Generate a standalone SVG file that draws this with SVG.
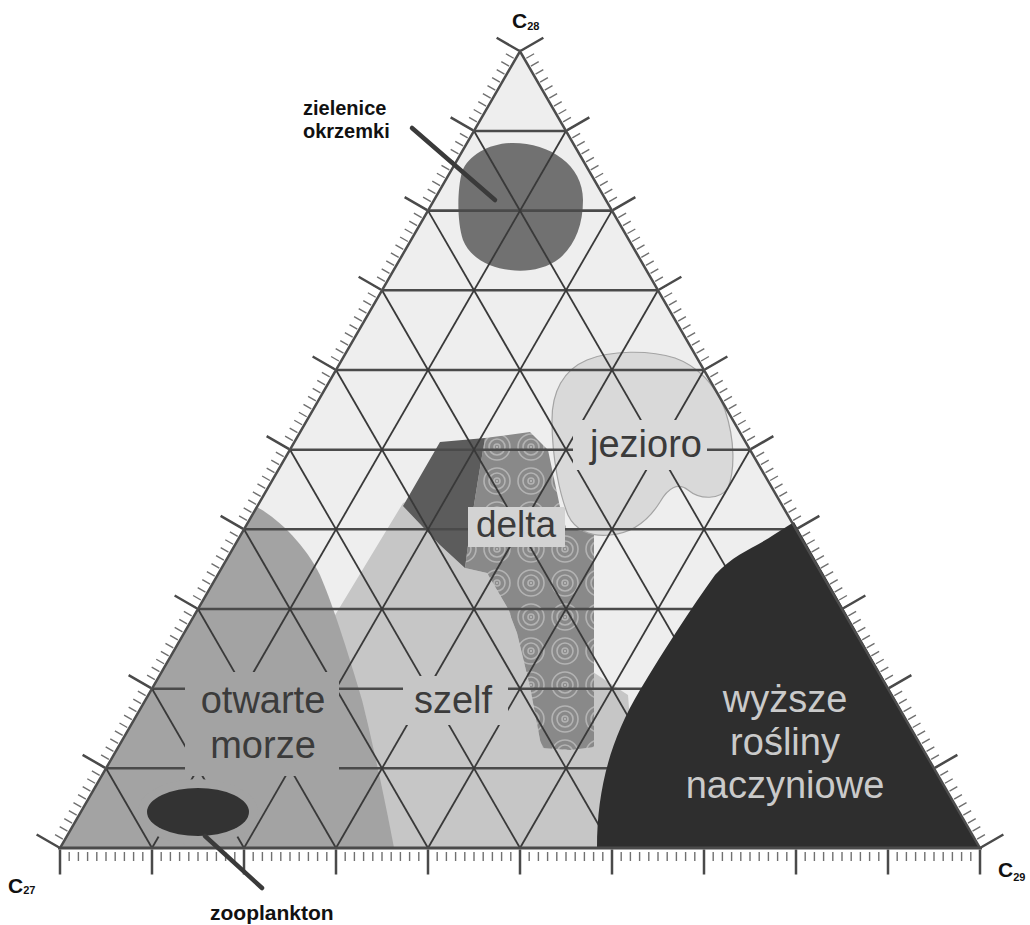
<svg xmlns="http://www.w3.org/2000/svg" width="1030" height="925" viewBox="0 0 1030 925">
<style>
.lbl{font-family:"Liberation Sans",Arial,sans-serif;font-size:38px;fill:#3b3b3b;text-anchor:middle}
.lbl-light{font-family:"Liberation Sans",Arial,sans-serif;font-size:38px;fill:#cacaca;text-anchor:middle}
.small{font-family:"Liberation Sans",Arial,sans-serif;font-size:20px;font-weight:bold;fill:#111}
.corner{font-family:"Liberation Sans",Arial,sans-serif;font-size:21px;font-weight:bold;fill:#111}
.diag{stroke:#393939;stroke-width:1.8;fill:none}
.hor{stroke:#4a4a4a;stroke-width:2.6;fill:none}
.minor{fill:none;stroke:#707070;stroke-width:9;stroke-dasharray:1.4 7.8;stroke-dashoffset:0.7}
.major{fill:none;stroke:#4a4a4a;stroke-width:26;stroke-dasharray:2.5 89.5;stroke-dashoffset:47.25}
.leader{stroke:#3a3a3a;stroke-width:4.5;stroke-linecap:round;fill:none}
</style>
<defs>
<pattern id="rings" width="34" height="34" patternUnits="userSpaceOnUse" x="480" y="430">
<rect width="34" height="34" fill="#898989"/>
<g fill="none" stroke="#b3b3b3" stroke-width="1.6">
<circle cx="17" cy="17" r="3"/>
<circle cx="17" cy="17" r="8"/>
<circle cx="17" cy="17" r="13"/>
</g>
<circle cx="17" cy="17" r="1.2" fill="#b3b3b3"/>
</pattern>
</defs>

<!-- background -->
<polygon points="60,848 520,51.3 980,848" fill="#eeeeee"/>

<!-- region fills -->
<g id="regions">
<path id="region-szelf" d="M403,503 L430,492 L465,568 L487,573 L507,607 L517,633 L530,687 L540,740 L593,672 L628,695 L640,848 L380,848 L320,640 Z" fill="#c6c6c6"/>
<path id="region-otwarte" d="M257,507 C280,520 305,545 320,575 C335,610 350,660 362,700 C372,740 385,800 394,848 L60,848 Z" fill="#a3a3a3"/>
<path id="region-delta-pattern" d="M485,438 L530,432 L548,450 L560,507 L566,528 L594,533 L594,747 L570,750 L543,748 L540,740 L530,687 L517,633 L507,607 L487,573 L465,568 L470,530 L478,480 Z" fill="url(#rings)"/>
<polygon id="region-delta-dark" points="440,442 485,438 478,480 470,530 465,568 440,545 403,506" fill="#5c5c5c"/>
<path id="region-jezioro" d="M587,360 C610,350 650,350 675,358 C700,367 715,385 725,410 C735,440 735,470 728,488 C720,500 700,500 688,490 C678,482 668,488 660,502 C650,518 635,533 610,535 C590,537 575,530 568,515 C560,495 552,460 552,420 C552,392 563,370 587,360 Z" fill="#d9d9d9" stroke="#a4a4a4" stroke-width="1.2"/>
<path id="region-zielenice" d="M513,143 C550,143 583,165 583,200 C583,225 575,245 560,258 C545,270 525,272 510,270 C490,268 470,258 463,240 C457,222 457,190 462,172 C468,155 490,143 513,143 Z" fill="#717171"/>
</g>

<!-- grid -->
<g id="grid">
<g class="hor">
<line x1="474" y1="131" x2="566" y2="131"/>
<line x1="428" y1="210.6" x2="612" y2="210.6"/>
<line x1="382" y1="290.3" x2="658" y2="290.3"/>
<line x1="336" y1="370" x2="704" y2="370"/>
<line x1="290" y1="449.7" x2="750" y2="449.7"/>
<line x1="244" y1="529.3" x2="796" y2="529.3"/>
<line x1="198" y1="609" x2="842" y2="609"/>
<line x1="152" y1="688.7" x2="888" y2="688.7"/>
<line x1="106" y1="768.3" x2="934" y2="768.3"/>
</g>
<g class="diag">
<line x1="152" y1="848" x2="566" y2="131"/>
<line x1="244" y1="848" x2="612" y2="210.6"/>
<line x1="336" y1="848" x2="658" y2="290.3"/>
<line x1="428" y1="848" x2="704" y2="370"/>
<line x1="520" y1="848" x2="750" y2="449.7"/>
<line x1="612" y1="848" x2="796" y2="529.3"/>
<line x1="704" y1="848" x2="842" y2="609"/>
<line x1="796" y1="848" x2="888" y2="688.7"/>
<line x1="888" y1="848" x2="934" y2="768.3"/>
<line x1="152" y1="848" x2="106" y2="768.3"/>
<line x1="244" y1="848" x2="152" y2="688.7"/>
<line x1="336" y1="848" x2="198" y2="609"/>
<line x1="428" y1="848" x2="244" y2="529.3"/>
<line x1="520" y1="848" x2="290" y2="449.7"/>
<line x1="612" y1="848" x2="336" y2="370"/>
<line x1="704" y1="848" x2="382" y2="290.3"/>
<line x1="796" y1="848" x2="428" y2="210.6"/>
<line x1="888" y1="848" x2="474" y2="131"/>
</g>
</g>

<!-- dark regions drawn over the grid -->
<path id="region-wyzsze" d="M597,848 C597,790 610,740 640,690 C665,648 690,610 715,575 C735,553 755,548 775,534 L794,522 L980,848 Z" fill="#2e2e2e"/>
<g id="region-zooplankton">
<ellipse cx="198" cy="812" rx="60" ry="33" fill="#a3a3a3"/>
<ellipse cx="198" cy="812" rx="51" ry="24" fill="#333333"/>
</g>

<!-- frame and ticks -->
<g id="frame">
<line class="minor" x1="54.37" y1="844.75" x2="514.37" y2="48.05"/>
<line class="minor" x1="985.63" y1="844.75" x2="525.63" y2="48.05"/>
<line class="minor" x1="60" y1="856.5" x2="980" y2="856.5"/>
<line class="major" x1="24.88" y1="880.84" x2="530.88" y2="4.46"/>
<line class="major" x1="1015.12" y1="880.84" x2="509.12" y2="4.46"/>
<line class="major" x1="14" y1="862" x2="1026" y2="862" style="stroke-width:25"/>
<polyline points="60,848 520,51.3 980,848" fill="none" stroke="#4d4d4d" stroke-width="2.5" stroke-linejoin="miter"/>
<line x1="58" y1="848" x2="982" y2="848" stroke="#4a4a4a" stroke-width="3"/>
</g>

<!-- connectors -->
<g id="connectors">
<line class="leader" x1="412" y1="128" x2="495" y2="200"/>
<line class="leader" x1="205" y1="836" x2="262" y2="888"/>
</g>

<!-- nodes / labels -->
<g id="node-zielenice">
<text class="small" x="303" y="115">zielenice</text>
<text class="small" x="303" y="138">okrzemki</text>
</g>
<g id="node-zooplankton">
<text class="small" x="210" y="920" style="font-size:21px">zooplankton</text>
</g>
<g id="node-jezioro">
<rect x="573" y="420" width="134" height="50" fill="#d9d9d9"/>
<text class="lbl" x="646" y="457">jezioro</text>
</g>
<g id="node-delta">
<rect x="468" y="507" width="97" height="40" fill="#d3d3d3"/>
<text class="lbl" x="516" y="537" style="font-size:37px">delta</text>
</g>
<g id="node-otwarte">
<rect x="185" y="672" width="154" height="104" fill="#a3a3a3"/>
<text class="lbl" x="263" y="713">otwarte</text>
<text class="lbl" x="263" y="758">morze</text>
</g>
<g id="node-szelf">
<rect x="403" y="676" width="105" height="49" fill="#c6c6c6"/>
<text class="lbl" x="453" y="713">szelf</text>
</g>
<g id="node-wyzsze">
<text class="lbl-light" x="785" y="712">wyższe</text>
<text class="lbl-light" x="785" y="755">rośliny</text>
<text class="lbl-light" x="785" y="798">naczyniowe</text>
</g>
<g id="corner-labels">
<text class="corner" x="512" y="28">C<tspan font-size="11" dy="2">28</tspan></text>
<text class="corner" x="8" y="893">C<tspan font-size="11" dy="1">27</tspan></text>
<text class="corner" x="998" y="877">C<tspan font-size="11" dy="4">29</tspan></text>
</g>
</svg>
